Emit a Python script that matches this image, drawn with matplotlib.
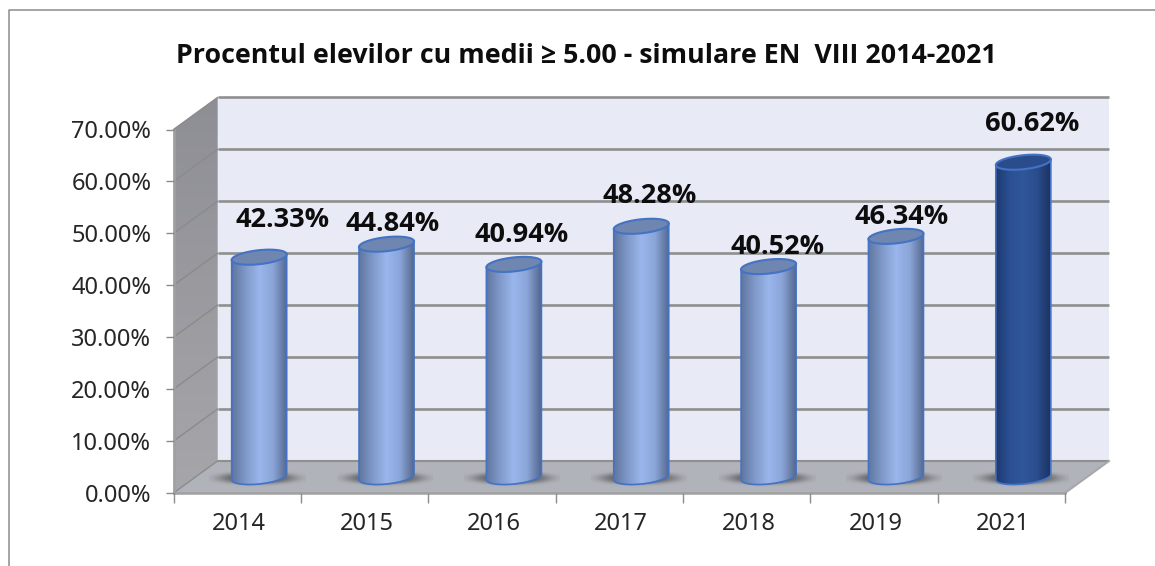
import numpy as np
import matplotlib
matplotlib.use("Agg")
import matplotlib.pyplot as plt
from matplotlib.colors import LinearSegmentedColormap
from matplotlib.lines import Line2D
from matplotlib.path import Path
from matplotlib.patches import PathPatch, Polygon
from matplotlib.transforms import Affine2D

# ---- data ----
years = ["2014", "2015", "2016", "2017", "2018", "2019", "2021"]
percent = [42.33, 44.84, 40.94, 48.28, 40.52, 46.34, 60.62]
y_ticks = [0, 10, 20, 30, 40, 50, 60, 70]
title = "Procentul elevilor cu medii ≥ 5.00 - simulare EN  VIII 2014-2021"
highlight = "2021"
# hand placement of the value labels, pixels from the top of the cylinder
label_dx = [23, 6, 8, 8, 9, 6, 9]
label_dy = [37, 20, 29, 30, 20, 19, 38]

W, H = 1155, 566
L, R, B, T = 173.5, 1065.0, 493.0, 129.5
plt.rcParams["font.family"] = ["Noto Sans", "DejaVu Sans"]
BOLD = ["Open Sans", "DejaVu Sans"]
fig = plt.figure(figsize=(W / 100, H / 100), dpi=100, facecolor="white")
ax = fig.add_axes([L / W, 1 - B / H, (R - L) / W, (B - T) / H])
ax.patch.set_visible(False)
n = len(years)
XMAX, YMAX = n, 70
px_x = (R - L) / XMAX
px_y = (B - T) / YMAX
DX, DY = 44 / px_x, 32 / px_y      # depth of the 3D box in data units
GRID = "#8f8f8f"
LW = 1.5

# outer frame of the chart object
fig.add_artist(Line2D([8.5 / W, 8.5 / W, 1], [0, 1 - 10 / H, 1 - 10 / H],
                      transform=fig.transFigure, color="#8c8c8c", lw=1.1))

# back wall
ax.add_patch(Polygon([(DX, DY), (XMAX + DX, DY), (XMAX + DX, YMAX + DY), (DX, YMAX + DY)],
                     fc="#e8eaf6", ec="none", zorder=0, clip_on=False))
# side wall
side = Polygon([(0, 0), (DX, DY), (DX, YMAX + DY), (0, YMAX)], fc="#999aa2", ec="none",
               zorder=0.5, clip_on=False)
ax.add_patch(side)
grad = LinearSegmentedColormap.from_list("side", ["#a6a6aa", "#8e8e95"])
im = ax.imshow(np.linspace(0, 1, 64)[:, None], origin="lower", cmap=grad, aspect="auto",
               extent=(0, DX, 0, YMAX + DY), zorder=0.6, clip_on=True)
im.set_clip_path(side)
im.set_clip_box(fig.bbox)
# floor
ax.add_patch(Polygon([(0, 0), (XMAX, 0), (XMAX + DX, DY), (DX, DY)], fc="#b0b3ba", ec="none",
                     zorder=1, clip_on=False))

# gridlines, on the back wall and across the side wall
for v in y_ticks:
    ax.plot([DX, XMAX + DX], [v + DY, v + DY], color=GRID, lw=LW + 0.4 if v else LW,
            zorder=1.2, clip_on=False, solid_capstyle="butt")
    ax.plot([0, DX], [v, v + DY], color="#8b8b8b", lw=1.0, zorder=1.2, clip_on=False)
ax.plot([XMAX, XMAX + DX], [0, DY], color="#a8a8a8", lw=1.5, zorder=1.2, clip_on=False)

# cylinders
light = LinearSegmentedColormap.from_list("c1", ["#5f769f", "#7f99c9", "#9ab6ec", "#8ba5d8", "#55698f"])
dark = LinearSegmentedColormap.from_list("c2", ["#1e3a6e", "#2b5094", "#305799", "#2a4d8d", "#1c335f"])
a = 27.5 / px_x
b = 7.0 / px_y
tilt = 2.8 / px_y
base = DY / 2
yy, xx = np.mgrid[-1:1:60j, -1:1:120j]
shadow = np.zeros((60, 120, 4))
shadow[..., :3] = 0.3
shadow[..., 3] = 0.85 * np.exp(-((xx / 0.8) ** 2 + (yy / 0.6) ** 2) ** 2)

for i, (year, v) in enumerate(zip(years, percent)):
    cx = i + 0.5 + DX / 2
    top = v + DY / 2
    cmap = dark if year == highlight else light
    edge = "#4472c4"
    topface = "#2a4c8c" if year == highlight else "#6f86b0"
    ax.imshow(shadow, extent=(cx - 50 / px_x, cx + 46 / px_x, base - 11 / px_y, base + 9 / px_y),
              origin="lower", aspect="auto", zorder=2, clip_on=False, interpolation="bilinear")
    t1 = np.linspace(np.pi, 2 * np.pi, 60)
    t2 = np.linspace(0, np.pi, 60)
    lower_x = cx + a * np.cos(t1)
    lower_y = base + b * np.sin(t1) + tilt * np.cos(t1)
    upper_x = cx + a * np.cos(t2)
    upper_y = top + b * np.sin(t2) + tilt * np.cos(t2)
    outline = np.column_stack([np.r_[lower_x, upper_x], np.r_[lower_y, upper_y]])
    body = PathPatch(Path(np.vstack([outline, outline[:1]])), transform=ax.transData, fc="none", ec="none")
    ax.add_patch(body)
    img = ax.imshow(np.linspace(0, 1, 128)[None, :], cmap=cmap, aspect="auto", origin="lower",
                    extent=(cx - a, cx + a, base - b - 1, top + b + 1), zorder=3, interpolation="bilinear")
    img.set_clip_path(body)
    # silhouette: up the right side, and round the bottom
    ax.plot(np.r_[cx - a, lower_x, cx + a], np.r_[top - tilt, lower_y, top + tilt], color=edge, lw=1.2,
            zorder=3.5, clip_on=False, solid_joinstyle="round")
    tt = np.linspace(0, 2 * np.pi, 120)
    ax.add_patch(Polygon(np.column_stack([cx + a * np.cos(tt), top + b * np.sin(tt) + tilt * np.cos(tt)]),
                         fc=topface, ec=edge, lw=1.5, zorder=4, clip_on=False))
    ax.annotate(f"{v:.2f}%", xy=(cx, top), xytext=(label_dx[i], label_dy[i]), textcoords="offset pixels",
                ha="center", va="center", fontsize=19.5, fontweight="bold", family=BOLD, color="#0d0d0d", zorder=6,
                annotation_clip=False)

ax.set_xlim(0, XMAX)
ax.set_ylim(0, YMAX)

# axes
for s in ("top", "right"):
    ax.spines[s].set_visible(False)
for s in ("left", "bottom"):
    ax.spines[s].set_color("#a0a0a0")
    ax.spines[s].set_linewidth(1.8)
    ax.spines[s].set_zorder(1.5)
ax.set_yticks(y_ticks)
ax.set_yticklabels([f"{v:.2f}%" for v in y_ticks], fontsize=17, color="#262626")
ax.tick_params(axis="y", length=6, width=1.0, color="#8c8c8c", pad=10)
ax.set_xticks(np.arange(n + 1))
ax.set_xticklabels([])
ax.tick_params(axis="x", which="major", length=7, width=1.0, color="#8c8c8c")
ax.set_xticks(np.arange(n) + 0.5, minor=True)
ax.set_xticklabels(years, minor=True, fontsize=17, color="#262626")
ax.tick_params(axis="x", which="minor", length=0, pad=14)
for lbl in ax.get_xticklabels(minor=True):
    lbl.set_transform(lbl.get_transform() + Affine2D().translate(2, 0))

fig.text(586 / W, 1 - 56 / H, title, ha="center", va="center", fontsize=19.3, fontweight="bold", family=BOLD, color="#0d0d0d")
fig.savefig("out.png", dpi=100)
